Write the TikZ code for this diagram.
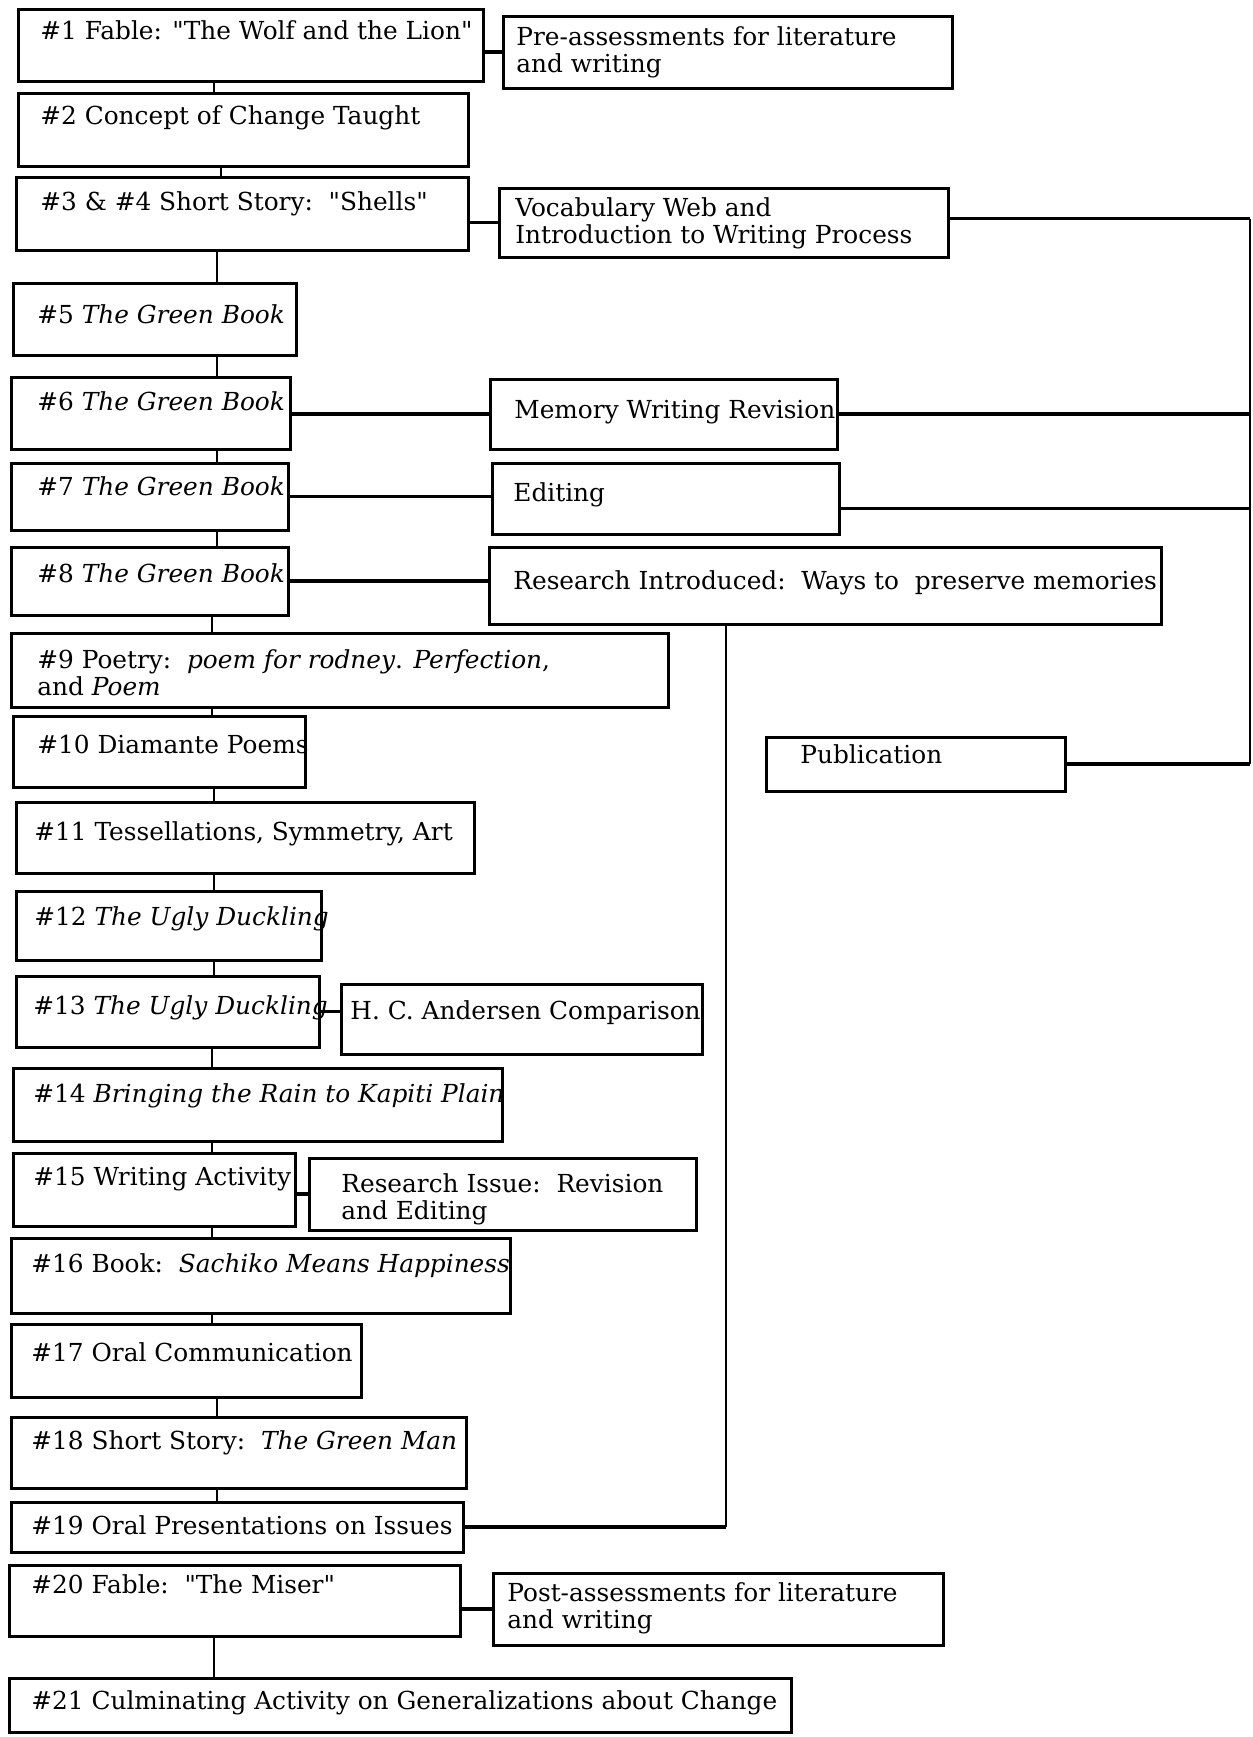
\documentclass[tikz,border=0pt]{standalone}
\usepackage{fontspec}
\setmainfont{DejaVu Serif}[Ligatures=TeXOff]
\usetikzlibrary{fit}

% box: name, x1, y1, x2, y2, text x, text baseline y, text
\newcommand\ubox[8]{%
  \node[unitbox, fit={(#2,#3) (#4,#5)}] (#1) {};
  \node[lbl] (#1-t) at (#6,#7) {#8};}
\newcommand\twolines[2]{\vtop{\baselineskip=13.5pt\hbox{#1}\hbox{#2}}}

\begin{document}
\begin{tikzpicture}[x=0.5pt,y=-0.5pt,
  unitbox/.style={draw, line width=1.5pt, inner sep=0pt},
  lbl/.style={anchor=base west, inner sep=0pt, font=\fontsize{12.4}{13.5}\selectfont},
  spine/.style={line width=1pt},
  link/.style={line width=1.6pt},
  thinlink/.style={line width=1.1pt}]

\useasboundingbox (0,0) rectangle (1253,1737);

% main sequence of units
\ubox{n1}{18}{9}{483}{81}{40}{39}{\#1 Fable: "The Wolf and the Lion"}
\ubox{n2}{18}{93}{468}{166}{40}{124}{\#2 Concept of Change Taught}
\ubox{n3}{16}{177}{468}{250}{40}{210}{\#3 \& \#4 Short Story:\ \ "Shells"}
\ubox{n5}{13}{283}{296}{355}{37}{323}{\#5 \textit{The Green Book}}
\ubox{n6}{11}{377}{290}{449}{37}{410}{\#6 \textit{The Green Book}}
\ubox{n7}{11}{463}{288}{530}{37}{495}{\#7 \textit{The Green Book}}
\ubox{n8}{11}{547}{288}{615}{37}{582}{\#8 \textit{The Green Book}}
\ubox{n9}{11}{633}{668}{707}{37}{668}{\twolines{\#9 Poetry:\ \ \textit{poem for rodney}. \textit{Perfection},}{and \textit{Poem}}}
\ubox{n10}{13}{716}{305}{787}{37}{753}{\#10 Diamante Poems}
\ubox{n11}{16}{802}{474}{873}{34}{840}{\#11 Tessellations, Symmetry, Art}
\ubox{n12}{16}{891}{321}{960}{34}{925}{\#12 \textit{The Ugly Duckling}}
\ubox{n13}{16}{976}{319}{1047}{33}{1014}{\#13 \textit{The Ugly Duckling}}
\ubox{n14}{13}{1068}{502}{1141}{33}{1102}{\#14 \textit{Bringing the Rain to Kapiti Plain}}
\ubox{n15}{13}{1153}{295}{1226}{33}{1185}{\#15 Writing Activity}
\ubox{n16}{11}{1238}{510}{1313}{31}{1272}{\#16 Book:\ \ \textit{Sachiko Means Happiness}}
\ubox{n17}{11}{1324}{361}{1397}{31}{1361}{\#17 Oral Communication}
\ubox{n18}{11}{1417}{466}{1488}{31}{1449}{\#18 Short Story:\ \ \textit{The Green Man}}
\ubox{n19}{11}{1502}{463}{1552}{31}{1534}{\#19 Oral Presentations on Issues}
\ubox{n20}{9}{1565}{460}{1636}{31}{1593}{\#20 Fable:\ \ "The Miser"}
\ubox{n21}{9}{1678}{791}{1732}{31}{1709}{\#21 Culminating Activity on Generalizations about Change}

% side activities
\ubox{pre}{503}{16}{952}{88}{516}{45}{\twolines{Pre-assessments for literature}{and writing}}
\ubox{voc}{499}{188}{948}{257}{515}{216}{\twolines{Vocabulary Web and}{Introduction to Writing Process}}
\ubox{mem}{490}{379}{837}{449}{514}{418}{Memory Writing Revision}
\ubox{edit}{492}{463}{839}{534}{513}{501}{Editing}
\ubox{resi}{489}{547}{1161}{624}{513}{589}{Research Introduced:\ \ Ways to\ \ preserve memories}
\ubox{pub}{766}{737}{1065}{791}{800}{763}{Publication}
\ubox{hca}{341}{984}{702}{1054}{350}{1019}{H. C. Andersen Comparison}
\ubox{resiss}{309}{1158}{696}{1230}{341}{1192}{\twolines{Research Issue:\ \ Revision}{and Editing}}
\ubox{post}{493}{1573}{943}{1645}{507}{1601}{\twolines{Post-assessments for literature}{and writing}}

% vertical spine between the units
\coordinate (sa) at (214,0);
\coordinate (sb) at (221,0);
\coordinate (sc) at (217,0);
\coordinate (sd) at (212,0);
\draw[spine] (n1.south -| sa) -- (n2.north -| sa);
\draw[spine] (n2.south -| sb) -- (n3.north -| sb);
\draw[spine] (n3.south -| sc) -- (n5.north -| sc);
\draw[spine] (n5.south -| sc) -- (n6.north -| sc);
\draw[spine] (n6.south -| sc) -- (n7.north -| sc);
\draw[spine] (n7.south -| sc) -- (n8.north -| sc);
\draw[spine] (n8.south -| sd) -- (n9.north -| sd);
\draw[spine] (n9.south -| sd) -- (n10.north -| sd);
\draw[spine] (n10.south -| sa) -- (n11.north -| sa);
\draw[spine] (n11.south -| sa) -- (n12.north -| sa);
\draw[spine] (n12.south -| sa) -- (n13.north -| sa);
\draw[spine] (n13.south -| sd) -- (n14.north -| sd);
\draw[spine] (n14.south -| sd) -- (n15.north -| sd);
\draw[spine] (n15.south -| sd) -- (n16.north -| sd);
\draw[spine] (n16.south -| sd) -- (n17.north -| sd);
\draw[spine] (n17.south -| sc) -- (n18.north -| sc);
\draw[spine] (n18.south -| sc) -- (n19.north -| sc);
\draw[spine] (n20.south -| sa) -- (n21.north -| sa);

% links to side activities
\draw[link] (n1.east |- pre.west) -- (pre.west);
\draw[link] (n3.east |- voc.west) -- (voc.west);
\draw[link] (n6.east |- mem.west) -- (mem.west);
\draw[link] (n7.east) -- (n7.east -| edit.west);
\draw[link] (n8.east) -- (n8.east -| resi.west);
\draw[link] (n13.east) -- (n13.east -| hca.west);
\draw[link] (n15.east |- resiss.west) -- (resiss.west);
\draw[link] (n20.east |- post.west) -- (post.west);

% writing strand feeding publication along the right margin
\coordinate (bus) at (1250,0);
\draw[link] ([yshift=2pt]voc.east) -- ([yshift=2pt]voc.east -| bus);
\draw[link] (mem.east) -- (mem.east -| bus);
\draw[link] ([yshift=-5pt]edit.east) -- ([yshift=-5pt]edit.east -| bus);
\draw[link] (pub.east) -- (pub.east -| bus);
\draw[thinlink] ([yshift=2pt]voc.east -| bus) -- (pub.east -| bus);

% research strand leading to the oral presentations
\coordinate (rx) at (726,0);
\draw[thinlink] (resi.south -| rx) -- (rx |- n19.east);
\draw[link] (rx |- n19.east) -- (n19.east);

\end{tikzpicture}
\end{document}
